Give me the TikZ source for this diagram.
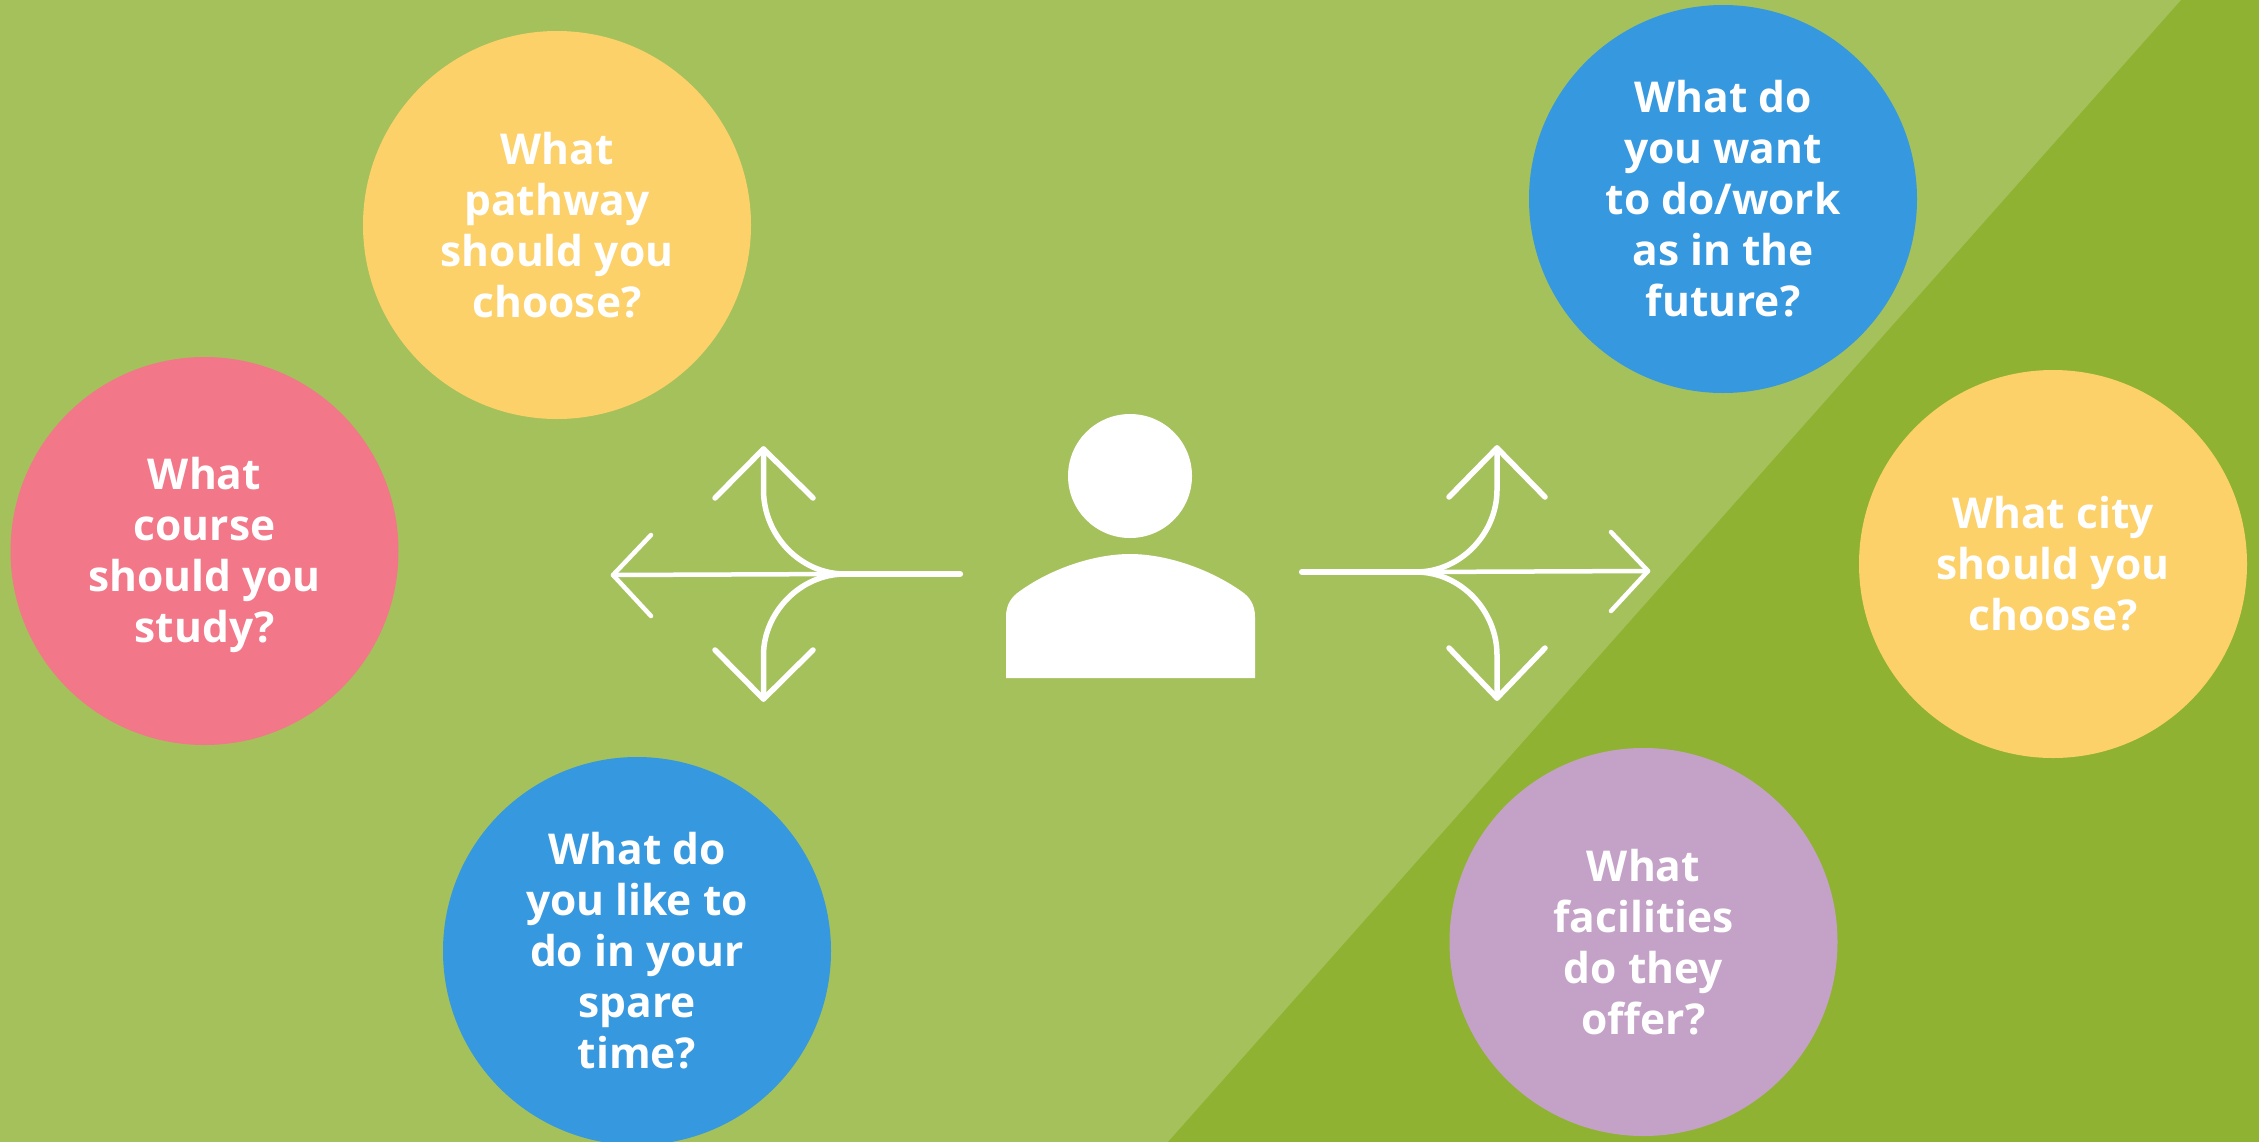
\documentclass[tikz,border=0pt]{standalone}
\usepackage{fontspec}
\setmainfont{Open Sans}
\definecolor{bglight}{HTML}{A5C15C}
\definecolor{bgdark}{HTML}{90B232}
\definecolor{cpink}{HTML}{F27789}
\definecolor{cyellow}{HTML}{FCD16A}
\definecolor{cblue}{HTML}{3698DE}
\definecolor{cpurple}{HTML}{C4A2C8}
\tikzset{
  question/.style={circle,minimum size=388pt,inner sep=0pt,align=center,text=white,
    font=\fontsize{42.5}{51}\selectfont\bfseries},
  arrowline/.style={draw=white,line width=5.5pt,line cap=round,line join=round},
  thinline/.style={draw=white,line width=4.5pt,line cap=round,line join=round},
  stemline/.style={draw=white,line width=6.3pt,line cap=round}
}
\begin{document}
\begin{tikzpicture}[x=1pt,y=-1pt]
\useasboundingbox (0,0) rectangle (2259,1141);
\fill[bglight] (-1,-1) rectangle (2260,1142);
\fill[bgdark] (2182,-1) -- (2260,-1) -- (2260,1142) -- (1168,1142) -- cycle;
\node[question,fill=cpink] (course) at (204.5,551) {\rule{0pt}{40pt}What\\course\\should you\\study?};
\node[question,fill=cyellow] (pathway) at (557,225) {What\\pathway\\should you\\choose?};
\node[question,fill=cblue] (spare) at (637,951) {What do\\you like to\\do in your\\spare\\time?};
\node[question,fill=cblue] (work) at (1723,199) {What do\\you want\\to do/work\\as in the\\future?};
\node[question,fill=cyellow] (city) at (2053,564) {What city\\should you\\choose?};
\node[question,fill=cpurple] (facilities) at (1643.5,942) {What\\facilities\\do they\\offer?};
% person
\fill[white] (1130,476) circle (62);
\fill[white] (1006,678) -- (1006,617)
  .. controls (1006,605) and (1011,597) .. (1020,591)
  .. controls (1052,568) and (1095,554) .. (1130,554)
  .. controls (1165,554) and (1208,568) .. (1241,591)
  .. controls (1250,597) and (1255,605) .. (1255,617)
  -- (1255,678) -- cycle;
% left arrows
\coordinate (ls) at (960,574);
\coordinate (lb) at (845,574);
\coordinate (lut) at (763.5,449);
\coordinate (ldt) at (763.5,699);
\coordinate (llt) at (613,575);
\draw[thinline] (lb) -- (llt);
\draw[stemline] (ls) -- (lb);
\draw[arrowline] (lb) .. controls (800,574) and (763.5,535) .. (763.5,490) -- (lut);
\draw[arrowline] (lb) .. controls (800,574) and (763.5,613) .. (763.5,655) -- (ldt);
\draw[arrowline] (715,498) -- (lut) -- (813,498);
\draw[arrowline] (715,650) -- (ldt) -- (813,650);
\draw[thinline] (651,535) -- (llt) -- (651,616);
% right arrows
\coordinate (rs) at (1302,572);
\coordinate (rb) at (1416,572);
\coordinate (rut) at (1497,448);
\coordinate (rdt) at (1497,698);
\coordinate (rrt) at (1648,571);
\draw[thinline] (rb) -- (rrt);
\draw[stemline] (rs) -- (rb);
\draw[arrowline] (rb) .. controls (1461,572) and (1497,533) .. (1497,490) -- (rut);
\draw[arrowline] (rb) .. controls (1461,572) and (1497,611) .. (1497,655) -- (rdt);
\draw[arrowline] (1449,497) -- (rut) -- (1545,497);
\draw[arrowline] (1449,648) -- (rdt) -- (1545,648);
\draw[thinline] (1611,532) -- (rrt) -- (1611,611);
\end{tikzpicture}
\end{document}
